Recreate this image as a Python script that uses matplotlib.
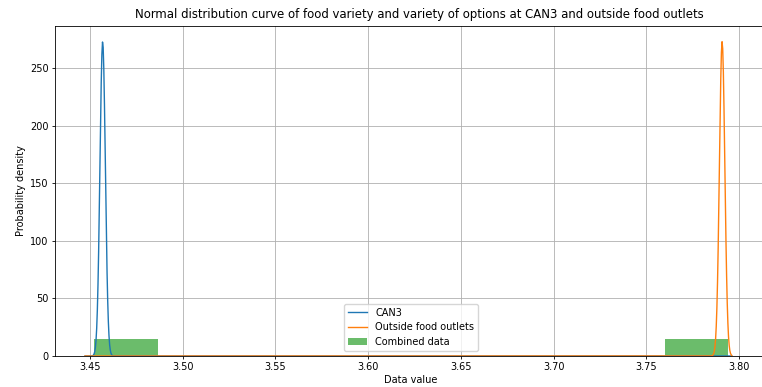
import numpy as np
import matplotlib
matplotlib.use("Agg")
import matplotlib.pyplot as plt

# Summary statistics of the two groups
labels = ["CAN3", "Outside food outlets"]
means = [3.4568, 3.7909]
stds = [0.00146, 0.00146]

# Pooled observations shown as a density histogram
combined = [3.4523, 3.4568, 3.7909, 3.7943]
n_bins = 10

# Range over which the normal curves are evaluated
curve_range = [3.4473, 3.7961]

xticks = [3.45, 3.50, 3.55, 3.60, 3.65, 3.70, 3.75, 3.80]
yticks = [0, 50, 100, 150, 200, 250]
x_limits = (3.4311, 3.8151)

plt.rcParams["font.family"] = ["DejaVu Sans"]
plt.rcParams["font.size"] = 7.0

fig = plt.figure(figsize=(7.62, 3.87), dpi=100)
ax = fig.add_axes([55 / 762, 1 - 356 / 387, 712 / 762, 330 / 387])

x = np.linspace(curve_range[0], curve_range[1], 1000)
for name, mu, sd in zip(labels, means, stds):
    pdf = np.exp(-0.5 * ((x - mu) / sd) ** 2) / (sd * np.sqrt(2 * np.pi))
    ax.plot(x, pdf, lw=1.0, label=name, zorder=3)

ax.hist(combined, bins=n_bins, density=True, alpha=0.7, color="tab:green",
        label="Combined data", zorder=2)

ax.set_xlim(*x_limits)
ax.set_xticks(xticks)
ax.set_yticks(yticks)
ax.grid(True, lw=0.6)
ax.set_axisbelow(True)
ax.set_xlabel("Data value", labelpad=2)
ax.set_ylabel("Probability density", labelpad=3)
ax.set_title("Normal distribution curve of food variety and variety of options at CAN3 and outside food outlets",
             fontsize=9.4, fontstretch="condensed", pad=6, x=0.511)
ax.tick_params(length=2.5, width=0.6, pad=2)
for s in ax.spines.values():
    s.set_linewidth(0.6)
ax.legend(loc="lower center", fontsize=7.0)

fig.savefig("out.png", dpi=100)
